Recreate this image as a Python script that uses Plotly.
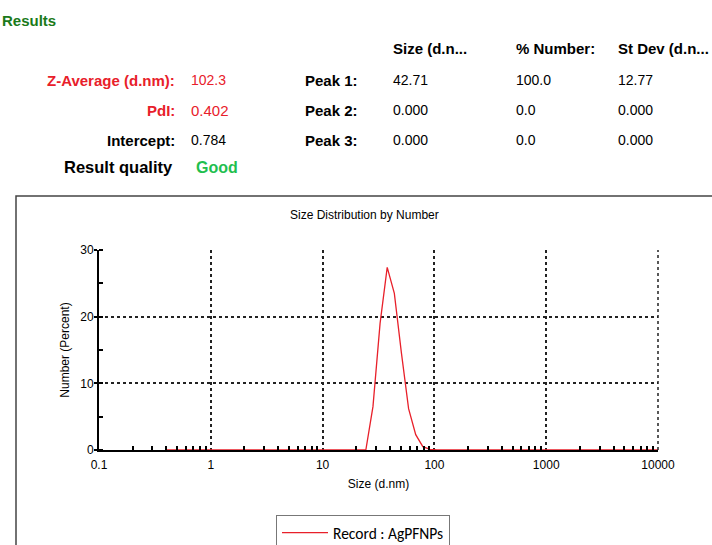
import plotly.graph_objects as go

W, H = 712, 545

# ---- data ----
size_nm = [0.4, 24.36, 28.21, 32.67, 37.84, 43.82, 50.75, 58.77, 68.06, 78.82, 91.28, 105.7, 10000]
number_pct = [0, 0, 6.5, 19.0, 27.4, 23.5, 14.5, 6.2, 2.3, 0.5, 0.1, 0, 0]
series_name = "Record : AgPFNPs"

x_major = [0.1, 1, 10, 100, 1000, 10000]
x_major_text = ["0.1", "1", "10", "100", "1000", "10000"]
x_minor = [m * d for d in [0.1, 1, 10, 100, 1000] for m in range(2, 10)]
y_major = [0, 10, 20, 30]

summary_labels = ["Z-Average (d.nm):", "PdI:", "Intercept:"]
summary_values = ["102.3", "0.402", "0.784"]
peak_labels = ["Peak 1:", "Peak 2:", "Peak 3:"]
peak_headers = ["Size (d.n...", "% Number:", "St Dev (d.n..."]
peak_size = ["42.71", "0.000", "0.000"]
peak_number = ["100.0", "0.0", "0.0"]
peak_stdev = ["12.77", "0.000", "0.000"]


def px(x):
    return x / W


def py(y):
    return 1 - y / H


FONT = "Liberation Sans, Arial, sans-serif"

fig = go.Figure()
fig.add_trace(go.Scatter(
    x=size_nm, y=number_pct, mode="lines", name=series_name,
    line=dict(color="#e8202a", width=1.3), showlegend=True,
))

x0p, x1p = 99, 658
y0p, y1p = 450, 250

fig.update_layout(
    width=W, height=H, autosize=False,
    margin=dict(l=0, r=0, t=0, b=0, autoexpand=False),
    paper_bgcolor="white", plot_bgcolor="white",
    font=dict(family=FONT, size=12, color="black"),
    xaxis=dict(
        type="log", domain=[px(x0p), px(x1p)], range=[-1, 4], automargin=False,
        tickmode="array", tickvals=x_major, ticktext=x_major_text,
        ticks="", showline=True, linecolor="black", linewidth=2,
        showgrid=True, gridcolor="#222", griddash="dot", gridwidth=1.5,
        zeroline=False, tickfont=dict(size=12, family=FONT), ticklabelstandoff=3,
        minor=dict(tickmode="array", tickvals=x_minor, ticks="inside",
                   ticklen=4, tickcolor="black", tickwidth=1.5, showgrid=False),
        title=dict(text="Size (d.nm)", font=dict(size=12, family=FONT), standoff=8),
        fixedrange=True,
    ),
    yaxis=dict(
        domain=[py(y0p), py(y1p)], range=[0, 30], automargin=False,
        tickmode="array", tickvals=y_major,
        ticks="outside", ticklen=3, tickwidth=1.5, tickcolor="black",
        ticklabelstandoff=-2,
        showline=True, linecolor="black", linewidth=2,
        showgrid=True, gridcolor="#222", griddash="dot", gridwidth=1.5,
        zeroline=False, tickfont=dict(size=12, family=FONT),
        minor=dict(dtick=5, ticks="inside", ticklen=4, tickcolor="black",
                   tickwidth=1.5, showgrid=False),
        title=dict(text="Number (Percent)", font=dict(size=12, family=FONT), standoff=8),
        fixedrange=True,
    ),
    legend=dict(
        x=px(276), y=py(515), xanchor="left", yanchor="top",
        bordercolor="#777", borderwidth=1, bgcolor="white",
        font=dict(family="Carlito, Calibri, Liberation Sans, sans-serif", size=15.5),
        itemwidth=46, tracegroupgap=0,
    ),
    showlegend=True,
)

# frame of the chart panel
fig.add_shape(type="rect", xref="paper", yref="paper",
              x0=px(16), x1=px(716), y0=py(196), y1=py(549),
              line=dict(color="#444", width=1.5), layer="below")
# right dotted border of the plot area
fig.add_shape(type="line", xref="paper", yref="paper",
              x0=px(x1p), x1=px(x1p), y0=py(y0p), y1=py(y1p),
              line=dict(color="#222", width=1.5, dash="dot"))

ann = []


def txt(x, y, s, color="black", size=14, bold=False, anchor="left", family=FONT):
    ann.append(dict(
        x=px(x), y=py(y), xref="paper", yref="paper", showarrow=False,
        text=f"<b>{s}</b>" if bold else s, xanchor=anchor, yanchor="middle",
        font=dict(color=color, size=size, family=family),
    ))


txt(0, 20, "Results", color="#1a7a1a", size=15, bold=True)
txt(365, 215, "Size Distribution by Number", size=12, anchor="center")

rows_y = [80, 110, 140]
summary_colors = ["#e8202a", "#e8202a", "black"]
for lab, val, yy, col in zip(summary_labels, summary_values, rows_y, summary_colors):
    txt(177, yy, lab, color=col, bold=True, size=15, anchor="right")
    txt(189, yy, val, color=col, size=15 if lab == "PdI:" else 14)
txt(175, 167, "Result quality", bold=True, size=16.5, anchor="right")
txt(194, 167, "Good", color="#1fbf4f", bold=True, size=16)

for lab, yy in zip(peak_labels, rows_y):
    txt(360, yy, lab, bold=True, size=15, anchor="right")

col_x = [391, 514, 616]
for h, cx in zip(peak_headers, col_x):
    txt(cx, 48, h, bold=True, size=15)
for i, yy in enumerate(rows_y):
    txt(col_x[0], yy, peak_size[i])
    txt(col_x[1], yy, peak_number[i])
    txt(col_x[2], yy, peak_stdev[i])

fig.update_layout(annotations=ann)
fig.write_html(
    "out.html",
    config={"responsive": False, "displayModeBar": False},
    post_script="document.body.style.margin='0';document.body.style.overflow='hidden';",
)
